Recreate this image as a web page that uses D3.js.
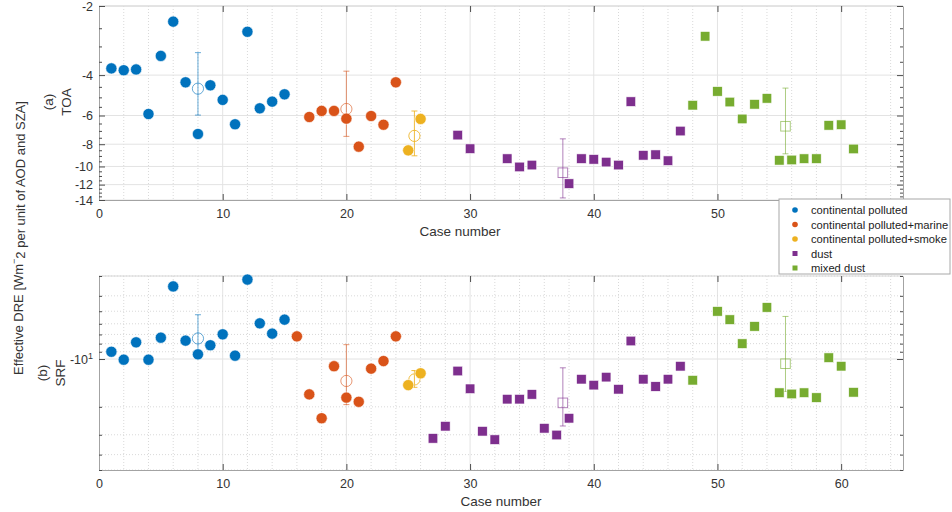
<!DOCTYPE html>
<html>
<head>
<meta charset="utf-8">
<script src="https://cdn.jsdelivr.net/npm/d3@7"></script>
<style>
  body { margin: 0; background: #fff; }
  svg { display: block; }
  text { font-family: "Liberation Sans", Arial, Helvetica, sans-serif; }
</style>
</head>
<body>
<svg id="chart" width="952" height="512"></svg>
<script>
// ---- data -------------------------------------------------------------
const caseNumbers = d3.range(1, 62);

const groupNames = [
  "continental polluted",
  "continental polluted+marine",
  "continental polluted+smoke",
  "dust",
  "mixed dust"
];
const groupColors = ["#0072BD", "#D95319", "#EDB120", "#7E2F8E", "#77AC30"];
const groupShapes = ["circle", "circle", "circle", "square", "square"];
const groupFirstCase = [1, 16, 25, 27, 48];
const groupLastCase  = [15, 24, 26, 47, 61];
const groupMeanX     = [8, 20, 25.5, 37.5, 55.5];

// effective DRE at top of atmosphere, one value per case
const toaValues = [
  -3.74, -3.81, -3.78, -5.91, -3.30, -2.34, -4.30, -7.22, -4.43, -5.13,
  -6.55, -2.59, -5.58, -5.22, -4.85,
  -1.73, -6.09, -5.73, -5.73, -6.19, -8.20, -6.03, -6.58, -4.30,
  -8.51, -6.21,
  -15.8, -14.6, -7.30, -8.37, -14.4, -15.9, -9.25, -10.05, -9.86, -14.2,
  -14.5, -11.88, -9.25, -9.31, -9.57, -9.86, -5.22, -8.94, -8.89, -9.44, -7.01,
  -5.41, -2.71, -4.71, -5.24, -6.21, -5.36, -5.05, -9.40, -9.37, -9.25,
  -9.25, -6.62, -6.58, -8.39
];

// effective DRE at the surface, one value per case
const srfValues = [
  -9.0, -10.1, -7.85, -10.1, -7.34, -3.49, -7.66, -9.34, -8.19, -6.99,
  -9.53, -3.16, -5.96, -6.92, -5.65,
  -7.20, -16.7, -23.6, -11.1, -17.5, -18.6, -11.5, -10.3, -7.20,
  -14.6, -12.3,
  -31.6, -26.5, -11.9, -15.4, -28.5, -32.2, -17.9, -17.9, -16.7, -27.3,
  -30.1, -23.6, -13.4, -14.6, -13.0, -15.5, -7.70, -13.4, -14.9, -13.4, -11.1,
  -13.6, -2.8, -5.01, -5.65, -8.0, -6.23, -4.73, -16.3, -16.6, -16.3,
  -17.5, -9.81, -11.1, -16.2
];

const xTicks = [0, 10, 20, 30, 40, 50, 60];
const xMinorTicks = d3.range(2, 65, 2).filter(d => d % 10 !== 0);
const toaTicks = [-2, -4, -6, -8, -10, -12, -14];
const toaMinorTicks = d3.range(2.5, 14, 0.5).filter(d => d % 2 !== 0).map(d => -d);
const srfTicks = [-10];
const srfMinorTicks = [-3, -4, -5, -6, -7, -8, -9, -20, -30, -40, -50];

// ---- layout -----------------------------------------------------------
const svg = d3.select("#chart");
const left = 99, right = 903;
const x = d3.scaleLinear().domain([0, 65]).range([left, right]);

// legend box (the top panel's x labels underneath it stay hidden)
const legendBox = { x: 779, y: 199, w: 171, h: 75 };

const panels = [
  { values: toaValues, y: d3.scaleLog().domain([-2, -14]).range([6, 200]),
    ticks: toaTicks, minor: toaMinorTicks, minorGrid: false,
    tag: ["(a)", "TOA"], tagX: [48, 66], tagY: 102, xTitle: 460 },
  { values: srfValues, y: d3.scaleLog().domain([-3, -50]).range([276, 470]),
    ticks: srfTicks, minor: srfMinorTicks, minorGrid: true,
    tag: ["(b)", "SRF"], tagX: [42, 60], tagY: 373, xTitle: 501 }
];

const axisColor = "#a3a3a3";
const tickColor = "#4d4d4d";
const labelColor = "#333";
const circleR = 5.6, squareS = 9.6;

function styleAxis(g, showLabels) {
  g.select(".domain").attr("stroke", axisColor);
  g.selectAll(".tick line").attr("stroke", tickColor);
  g.selectAll(".tick text").attr("fill", labelColor).attr("font-size", 12.5);
  if (!showLabels) g.selectAll(".tick text").remove();
}

panels.forEach(p => {
  const y = p.y;
  const [y0, y1] = y.range();
  const g = svg.append("g");

  // grid
  const grid = g.append("g");
  grid.selectAll(".vminor").data(xMinorTicks).join("line")
    .attr("x1", d => x(d)).attr("x2", d => x(d)).attr("y1", y0).attr("y2", y1)
    .attr("stroke", "#d9d9d9").attr("stroke-dasharray", "1,2");
  grid.selectAll(".vmajor").data(xTicks.filter(d => d > 0)).join("line")
    .attr("x1", d => x(d)).attr("x2", d => x(d)).attr("y1", y0).attr("y2", y1)
    .attr("stroke", "#e3e3e3");
  if (p.minorGrid) {
    grid.selectAll(".hminor").data(p.minor).join("line")
      .attr("x1", left).attr("x2", right).attr("y1", d => y(d)).attr("y2", d => y(d))
      .attr("stroke", "#d9d9d9").attr("stroke-dasharray", "1,2");
  }
  grid.selectAll(".hmajor").data(p.ticks).join("line")
    .attr("x1", left).attr("x2", right).attr("y1", d => y(d)).attr("y2", d => y(d))
    .attr("stroke", "#e3e3e3");

  // top border
  g.append("line").attr("x1", left).attr("x2", right).attr("y1", y0).attr("y2", y0)
    .attr("stroke", "#d6d6d6");

  // group mean ± standard deviation
  const [dTop, dBot] = y.domain();
  groupNames.forEach((name, i) => {
    const vals = p.values.slice(groupFirstCase[i] - 1, groupLastCase[i]);
    const m = d3.mean(vals), s = d3.deviation(vals);
    const cx = x(groupMeanX[i]);
    const top = y(Math.min(m + s, dTop));
    const bot = y(Math.max(m - s, dBot));
    const eg = g.append("g").attr("stroke", groupColors[i])
      .attr("stroke-opacity", i === 2 ? 0.85 : 0.6).attr("fill", "none");
    eg.append("line").attr("x1", cx).attr("x2", cx).attr("y1", top).attr("y2", bot);
    if (m + s <= dTop) eg.append("line").attr("x1", cx - 3).attr("x2", cx + 3).attr("y1", top).attr("y2", top);
    if (m - s >= dBot) eg.append("line").attr("x1", cx - 3).attr("x2", cx + 3).attr("y1", bot).attr("y2", bot);
    if (groupShapes[i] === "circle") {
      eg.append("circle").attr("cx", cx).attr("cy", y(m)).attr("r", circleR);
    } else {
      eg.append("rect").attr("x", cx - squareS / 2).attr("y", y(m) - squareS / 2)
        .attr("width", squareS).attr("height", squareS);
    }
  });

  // case markers (points outside the axis range are not drawn)
  const pts = caseNumbers.map((c, k) => {
    const gi = groupFirstCase.findIndex((f, j) => c >= f && c <= groupLastCase[j]);
    return { c, v: p.values[k], gi };
  }).filter(d => d.v >= dBot && d.v <= dTop);

  const mk = g.append("g").attr("stroke", "#fff").attr("stroke-width", 0.6);
  mk.selectAll("circle").data(pts.filter(d => groupShapes[d.gi] === "circle")).join("circle")
    .attr("cx", d => x(d.c)).attr("cy", d => y(d.v)).attr("r", circleR)
    .attr("fill", d => groupColors[d.gi]);
  mk.selectAll("rect").data(pts.filter(d => groupShapes[d.gi] === "square")).join("rect")
    .attr("x", d => x(d.c) - squareS / 2).attr("y", d => y(d.v) - squareS / 2)
    .attr("width", squareS).attr("height", squareS)
    .attr("fill", d => groupColors[d.gi]);

  // axes
  const shownX = xTicks.filter(d => !(y1 < legendBox.y + legendBox.h && x(d) > legendBox.x));
  const ax = g.append("g").attr("transform", `translate(0,${y1})`)
    .call(d3.axisBottom(x).tickValues(xTicks).tickSizeInner(-6).tickSizeOuter(0).tickPadding(9)
      .tickFormat(d => shownX.includes(d) ? String(d) : ""));
  styleAxis(ax, true);
  const axTop = g.append("g").attr("transform", `translate(0,${y0})`)
    .call(d3.axisTop(x).tickValues(xTicks.filter(d => d > 0)).tickSizeInner(-6).tickSizeOuter(0));
  axTop.select(".domain").remove();
  styleAxis(axTop, false);

  const ay = g.append("g").attr("transform", `translate(${left},0)`)
    .call(d3.axisLeft(y).tickValues(p.ticks).tickSizeInner(-6).tickSizeOuter(0).tickPadding(6)
      .tickFormat(d => String(d)));
  styleAxis(ay, true);
  const ayMinor = g.append("g").attr("transform", `translate(${left},0)`)
    .call(d3.axisLeft(y).tickValues(p.minor).tickSizeInner(-3).tickSizeOuter(0).tickFormat(""));
  ayMinor.select(".domain").remove();
  styleAxis(ayMinor, false);

  const ar = g.append("g").attr("transform", `translate(${right},0)`)
    .call(d3.axisRight(y).tickValues(p.ticks).tickSizeInner(-6).tickSizeOuter(0).tickFormat(""));
  styleAxis(ar, false);
  const arMinor = g.append("g").attr("transform", `translate(${right},0)`)
    .call(d3.axisRight(y).tickValues(p.minor).tickSizeInner(-3).tickSizeOuter(0).tickFormat(""));
  arMinor.select(".domain").remove();
  styleAxis(arMinor, false);

  // x title
  g.append("text").attr("x", p.xTitle).attr("y", y1 + 36).attr("text-anchor", "middle")
    .attr("font-size", 13.5).attr("fill", labelColor).text("Case number");

  // panel tag
  p.tag.forEach((t, k) => {
    g.append("text").attr("transform", `translate(${p.tagX[k]},${p.tagY}) rotate(-90)`)
      .attr("text-anchor", "middle").attr("dominant-baseline", "central")
      .attr("font-size", 13.5).attr("fill", labelColor).text(t);
  });

  p.axisGroup = ay;
});

// logarithmic exponent label on the surface axis
panels[1].axisGroup.selectAll(".tick text").each(function(d) {
  const t = d3.select(this).text("");
  t.append("tspan").text("-10");
  t.append("tspan").attr("dy", "-0.55em").attr("font-size", 9).text("1");
});

// shared y title
const yt = svg.append("text").attr("transform", "translate(18,238) rotate(-90)")
  .attr("text-anchor", "middle").attr("dominant-baseline", "central")
  .attr("font-size", 13).attr("fill", labelColor);
yt.append("tspan").text("Effective DRE [Wm");
yt.append("tspan").attr("dy", "-0.45em").attr("font-size", 9).text("\u2212");
yt.append("tspan").attr("dy", "0.45em").text("2 per unit of AOD and SZA]");

// legend
const lg = svg.append("g").attr("transform", `translate(${legendBox.x},${legendBox.y})`);
lg.append("rect").attr("width", legendBox.w).attr("height", legendBox.h).attr("fill", "#fff")
  .attr("stroke", "#a8a8a8");
groupNames.forEach((name, i) => {
  const cy = 11 + i * 14.5;
  if (groupShapes[i] === "circle") {
    lg.append("circle").attr("cx", 16).attr("cy", cy).attr("r", 2.8).attr("fill", groupColors[i]);
  } else {
    lg.append("rect").attr("x", 13.5).attr("y", cy - 2.5).attr("width", 5).attr("height", 5)
      .attr("fill", groupColors[i]);
  }
  lg.append("text").attr("x", 32).attr("y", cy).attr("dominant-baseline", "central")
    .attr("font-size", 11.2).attr("fill", "#222").text(name);
});
</script>
</body>
</html>
